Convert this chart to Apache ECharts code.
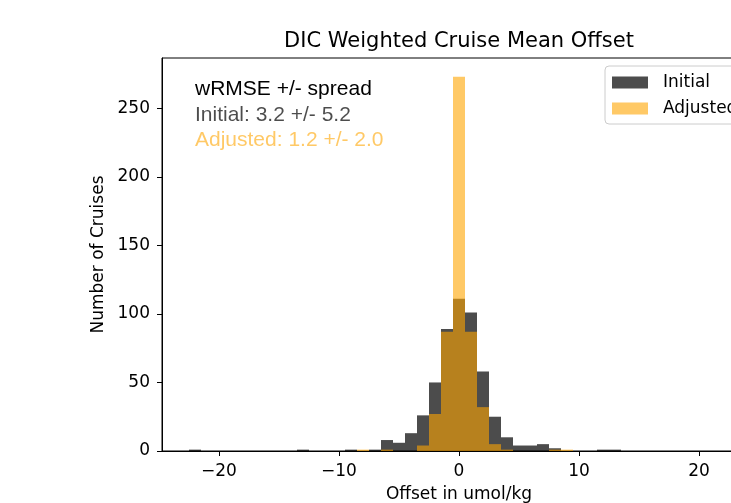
<!DOCTYPE html>
<html>
<head>
<meta charset="utf-8">
<script src="https://cdn.jsdelivr.net/npm/echarts@6/dist/echarts.min.js"></script>
<style>
html,body{margin:0;padding:0;overflow:hidden;background:#fff;width:731px;height:503px;}
#chart{width:918px;height:503px;}
</style>
</head>
<body>
<div id="chart"></div>
<script>
// Histogram bins (centres, width 1 umol/kg)
const binCenters = [-22, -13, -9, -8, -7, -6, -5, -4, -3, -2, -1, 0, 1, 2, 3, 4, 5, 6, 7, 8, 9, 12, 13];
const initialCounts = [1, 1, 1, 0, 1, 8, 6, 13, 26, 50, 89, 111, 101, 58, 25, 10, 4, 4, 5, 2, 0, 1, 1];
const adjustedCounts = [0, 0, 0, 1, 0, 1, 0, 0, 4, 27, 87, 273, 87, 32, 5, 1, 0, 0, 0, 1, 1, 0, 0];
const binWidth = 1;
const xTicks = [-20, -10, 0, 10, 20];
const yTicks = [0, 50, 100, 150, 200, 250];
const statLines = ['wRMSE +/- spread', 'Initial: 3.2 +/- 5.2', 'Adjusted: 1.2 +/- 2.0'];

const initialColor = 'rgba(0,0,0,0.7)';
const adjustedColor = 'rgba(255,165,0,0.6)';
const FONT = 'DejaVu Sans';

function toData(counts) {
  const out = [];
  binCenters.forEach((c, i) => { if (counts[i] > 0) out.push([c, counts[i]]); });
  return out;
}
function makeRender(color) {
  return function (params, api) {
    const x = api.value(0), y = api.value(1);
    const p0 = api.coord([x - binWidth / 2, 0]);
    const p1 = api.coord([x + binWidth / 2, y]);
    return {
      type: 'rect',
      shape: { x: p0[0], y: p1[1], width: p1[0] - p0[0], height: p0[1] - p1[1] },
      style: { fill: color }
    };
  };
}

const chart = echarts.init(document.getElementById('chart'), null, { renderer: 'canvas' });
chart.setOption({
  animation: false,
  backgroundColor: '#fff',
  title: {
    text: 'DIC Weighted Cruise Mean Offset',
    left: 'center',
    top: 26,
    textStyle: { fontFamily: FONT, fontSize: 21, fontWeight: 'normal', color: '#000' }
  },
  grid: {
    left: 162, top: 58, width: 594, height: 393,
    containLabel: false, outerBoundsMode: 'none',
    show: true, borderColor: '#000', borderWidth: 1, backgroundColor: 'transparent'
  },
  legend: {
    orient: 'vertical',
    left: 605,
    top: 66,
    icon: 'rect',
    itemWidth: 36,
    itemHeight: 12,
    itemGap: 9,
    padding: [8, 8, 7, 7],
    borderColor: '#cccccc',
    borderWidth: 1,
    borderRadius: 4,
    backgroundColor: '#fff',
    textStyle: { fontFamily: FONT, fontSize: 17, color: '#000', padding: [0, 0, 0, 10] },
    data: [
      { name: 'Initial', itemStyle: { color: initialColor } },
      { name: 'Adjusted', itemStyle: { color: adjustedColor } }
    ]
  },
  xAxis: {
    type: 'value',
    min: -24.75,
    max: 24.75,
    name: 'Offset in umol/kg',
    nameLocation: 'middle',
    nameGap: 35,
    nameTextStyle: { fontFamily: FONT, fontSize: 17, color: '#000' },
    axisLine: { onZero: false, lineStyle: { color: '#000', width: 1 } },
    axisTick: { show: true, length: 5, lineStyle: { color: '#000' }, customValues: xTicks },
    axisLabel: { fontFamily: FONT, fontSize: 17, color: '#000', margin: 12, customValues: xTicks,
      formatter: v => (v < 0 ? '\u2212' + Math.abs(v) : String(v)) },
    splitLine: { show: false }
  },
  yAxis: {
    type: 'value',
    min: 0,
    max: 286.65,
    name: 'Number of Cruises',
    nameLocation: 'middle',
    nameGap: 54,
    nameTextStyle: { fontFamily: FONT, fontSize: 17, color: '#000' },
    axisLine: { show: true, onZero: false, lineStyle: { color: '#000', width: 1 } },
    axisTick: { show: true, length: 5, lineStyle: { color: '#000' }, customValues: yTicks },
    axisLabel: { fontFamily: FONT, fontSize: 17, color: '#000', margin: 12, customValues: yTicks },
    splitLine: { show: false }
  },
  series: [
    {
      name: 'Initial',
      type: 'custom',
      itemStyle: { color: initialColor },
      renderItem: makeRender(initialColor),
      encode: { x: 0, y: 1 },
      data: toData(initialCounts)
    },
    {
      name: 'Adjusted',
      type: 'custom',
      itemStyle: { color: adjustedColor },
      renderItem: makeRender(adjustedColor),
      encode: { x: 0, y: 1 },
      data: toData(adjustedCounts)
    }
  ],
  graphic: [
    { type: 'text', left: 195, top: 79, style: { text: statLines[0], fontFamily: 'Liberation Sans', fontSize: 21, fill: '#000' } },
    { type: 'text', left: 195, top: 105, style: { text: statLines[1], fontFamily: 'Liberation Sans', fontSize: 21, fill: 'rgba(0,0,0,0.7)' } },
    { type: 'text', left: 195, top: 130, style: { text: statLines[2], fontFamily: 'Liberation Sans', fontSize: 21, fill: 'rgba(255,165,0,0.6)' } }
  ]
});
</script>
</body>
</html>
